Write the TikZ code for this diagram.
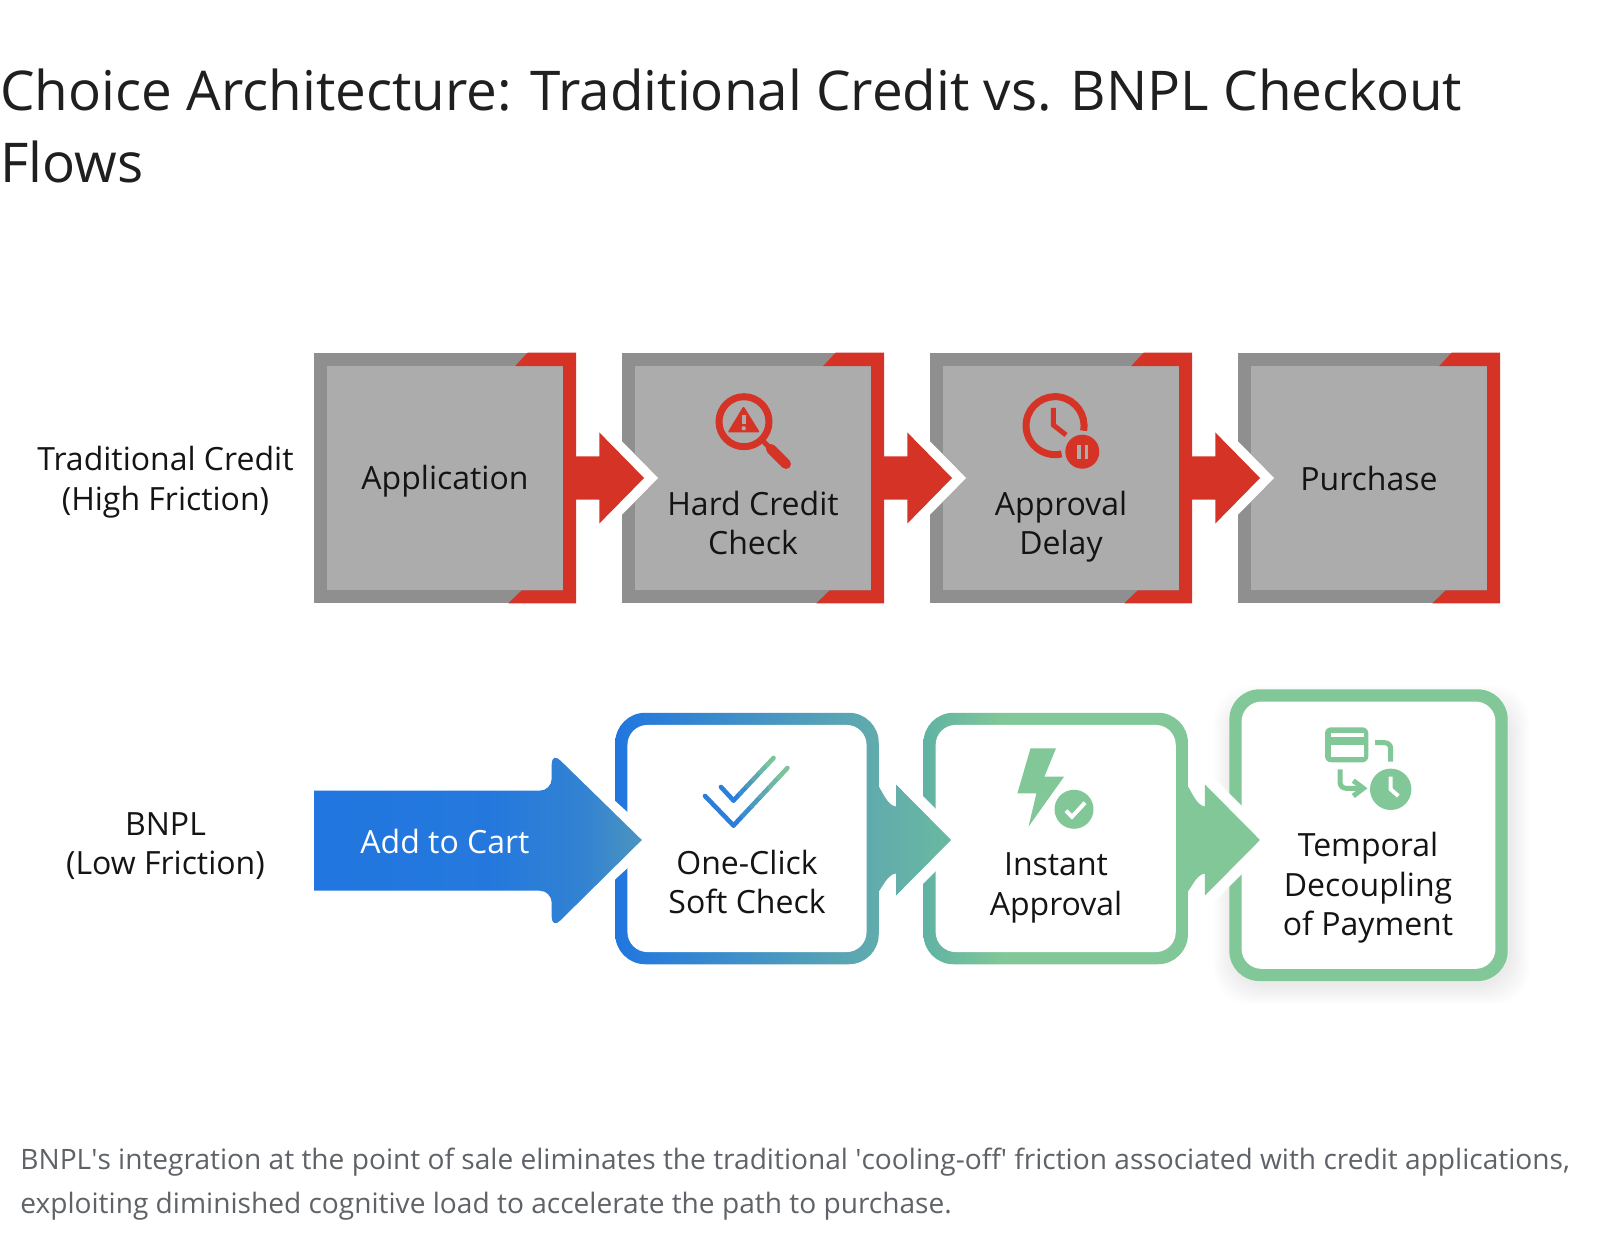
\documentclass[tikz,border=0pt]{standalone}
\usepackage{fontspec}
\setmainfont{Open Sans}
\usetikzlibrary{calc}
\definecolor{redc}{HTML}{D63327}
\definecolor{greyo}{HTML}{8F8F8F}
\definecolor{greyi}{HTML}{ACACAC}
\definecolor{ink}{HTML}{141414}
\definecolor{titlec}{HTML}{1F1F1F}
\definecolor{capc}{HTML}{5F6368}
\definecolor{blueA}{HTML}{2176E0}
\definecolor{blueB}{HTML}{4C95BE}
\definecolor{tealA}{HTML}{62ACAC}
\definecolor{tealB}{HTML}{5FB2A4}
\definecolor{greenA}{HTML}{81C797}
\pgfdeclarehorizontalshading{cartshade}{100bp}{color(0bp)=(blueA);color(25bp)=(blueA);color(52bp)=(blueA!92!blueB);color(66bp)=(blueA!60!blueB);color(75bp)=(blueB);color(100bp)=(blueB)}
\pgfdeclarehorizontalshading{instshade}{100bp}{color(0bp)=(tealB);color(25bp)=(tealB);color(40bp)=(greenA);color(100bp)=(greenA)}
\pgfdeclarehorizontalshading{softshade}{100bp}{color(0bp)=(blueA);color(25bp)=(blueA);color(38bp)=(blueA!75!tealA);color(75bp)=(tealA);color(100bp)=(tealA)}
\tikzset{
  gbox/.style={minimum width=130.75pt,minimum height=125pt,inner sep=0pt,fill=greyo},
  rbox/.style={inner sep=0pt,rounded corners=15pt},
  lab/.style={inner sep=0pt,align=center,text=ink,font=\fontsize{16}{19.8}\selectfont},
  redicon/.style={draw=redc,line width=3.5pt},
  gicon/.style={draw=greenA,line width=2.5pt},
}
\newcommand{\redframe}[1]{%
  \fill[greyi] ($(#1.north west)+(13,13.5)$) rectangle ($(#1.south east)+(-13,-13)$);
  \fill[redc] ($(#1.north east)+(-61,13.5)$) -- ($(#1.north east)+(-48.5,0)$) -- (#1.north east) -- (#1.south east)
     -- ($(#1.south east)+(-68,0)$) -- ($(#1.south east)+(-54.5,-13)$) -- ($(#1.south east)+(-13,-13)$)
     -- ($(#1.north east)+(-13,13.5)$) -- cycle;}
\newcommand{\redarrow}[2]{%
  \draw[white,line width=10pt,miter limit=10] ($(#2.west)+(-22.5,-45.5)$) -- ($(#2.west)+(22.2,0)$) -- ($(#2.west)+(-22.5,45.5)$);
  \fill[redc] ($(#1.east)+(-13,-21.7)$) -- ($(#2.west)+(-22.5,-21.7)$) -- ($(#2.west)+(-22.5,-45.5)$)
    -- ($(#2.west)+(22.2,0)$) -- ($(#2.west)+(-22.5,45.5)$) -- ($(#2.west)+(-22.5,21.7)$) -- ($(#1.east)+(-13,21.7)$) -- cycle;}
\newcommand{\innerwhite}[1]{%
  \fill[white,rounded corners=10pt] ($(#1.north west)+(12.6,12.6)$) rectangle ($(#1.south east)+(-12.6,-12.6)$);}
% from, to, tip offset, left colour, right colour
\newcommand{\softarrow}[5]{%
  \coordinate (t) at (#1.east -| #2.west);
  \coordinate (f) at (#1.east);
  \draw[white,line width=11pt,miter limit=10] ($(t)+(#3-55,-54)$) -- ($(t)+(#3,1.5)$) -- ($(t)+(#3-55,57)$);
  \path[left color=#4,right color=#5] ($(f)+(-4,-58)$) .. controls ($(f)+(4,-46)$) and ($(f)+(8,-33)$) .. ($(t)+(#3-55,-32)$)
    -- ($(t)+(#3-55,-54)$) -- ($(t)+(#3,1.5)$) -- ($(t)+(#3-55,57)$) -- ($(t)+(#3-55,35)$)
    .. controls ($(f)+(8,36)$) and ($(f)+(4,48)$) .. ($(f)+(-4,58)$) -- cycle;}
\begin{document}
\begin{tikzpicture}[x=.5pt,y=-.5pt]
\useasboundingbox (0,0) rectangle (1600,1234);
\fill[white] (0,0) rectangle (1600,1234);

\node[anchor=west,inner sep=0pt,align=left,text=titlec,font=\fontsize{27.4}{36.2}\selectfont] (title) at (0,126)
  {Choice Architecture: Traditional Credit vs. BNPL Checkout\\Flows};

\node[lab] (ltrad) at (165.5,482) {Traditional Credit\\(High Friction)};
\node[lab] (lbnpl) at (165.5,846) {BNPL\\(Low Friction)};

% traditional boxes
\node[gbox] (b1) at (445,478) {};
\node[gbox] (b2) at (753,478) {};
\node[gbox] (b3) at (1061,478) {};
\node[gbox] (b4) at (1369,478) {};
\redframe{b1}\redframe{b2}\redframe{b3}\redframe{b4}
\redarrow{b1}{b2}
\redarrow{b2}{b3}
\redarrow{b3}{b4}

% BNPL boxes
\node[rbox,minimum width=131.75pt,minimum height=125.75pt,shading=softshade] (c1) at (747,838.5) {};
\node[rbox,minimum width=132.25pt,minimum height=125.75pt,shading=instshade] (c2) at (1055.7,838.5) {};
\foreach \i in {1,...,20}{
  \fill[black,opacity=.005,rounded corners=18pt] (1229.4+4-\i,689.3+16-\i) rectangle (1507.7+2+\i,981+4+\i);
}
\node[rbox,minimum width=139.15pt,minimum height=145.85pt,fill=greenA] (c3) at (1368.5,835.2) {};
\innerwhite{c1}\innerwhite{c2}\innerwhite{c3}

% Add to Cart block arrow
\draw[white,line width=11pt,miter limit=10] (551.7,758.3) -- (641.8,840) -- (551.7,922.7);
\node[inner sep=0pt,minimum width=0pt] (cartstart) at (314,840.7) {};
\path[shading=cartshade]
  (cartstart.center) -- ++(0,-50) [rounded corners=6pt] -- (551.7,790.7) -- (551.7,752) [sharp corners] -- (641.8,840)
  [rounded corners=6pt] -- (551.7,929) -- (551.7,890.7) [sharp corners] -- (314,890.7) -- cycle;
\softarrow{c1}{c2}{28}{tealA}{tealB!70!greenA}
\softarrow{c2}{c3}{31}{greenA}{greenA}

% magnifier icon
\draw[redicon] (744,421.7) circle[radius=25];
\draw[redc,line width=2.5pt] (763,441) -- (771,449);
\draw[redc,line width=5pt,line cap=round] (771,449) -- (786,464);
\fill[redc,rounded corners=1pt] (743.5,406) -- (760,432.5) -- (727.5,432.5) -- cycle;
\draw[greyi,line width=2pt] (743.7,415.5) -- (743.7,424);
\fill[greyi] (743.7,428.3) circle[radius=2.2];

% clock pause icon
\draw[redicon] (1083.6,430.7) arc[start angle=10,end angle=-283,radius=29];
\draw[redc,line width=2.5pt] (1053.3,408) -- (1053.3,425) -- (1066,435);
\fill[redc] (1082.3,451.7) circle[radius=17];
\fill[greyi] (1077.3,445) rectangle (1080.7,459.3);
\fill[greyi] (1085,445) rectangle (1088.3,459.3);

% double check icon
\foreach \p/\q/\m in {0/.17/90,.17/.34/72,.34/.5/55,.5/.67/38,.67/.84/20,.84/1/5}{
  \draw[blueA!\m!greenA,line width=2.3pt,line cap=round] ($(733.5,825.5)!\p!(787.4,768)$) -- ($(733.5,825.5)!\q!(787.4,768)$);
  \draw[blueA!\m!greenA,line width=2.3pt,line cap=round] ($(733.5,800.5)!\p!(773.5,758)$) -- ($(733.5,800.5)!\q!(773.5,758)$);
}
\draw[blueA!90!greenA,line width=2.3pt,line cap=round] (705,796) -- (733.5,825.5);
\draw[blueA!90!greenA,line width=2.3pt,line cap=round] (721,787) -- (733.5,800.5);

% bolt icon
\fill[greenA] (1030.5,748.3) -- (1056,748.3) -- (1044.3,776.7) -- (1064,776.7) -- (1028.5,826.7) -- (1036.4,793.3) -- (1017.4,793.3) -- cycle;
\fill[greenA] (1074,809.3) circle[radius=19.5];
\draw[white,line width=2pt] (1066,810.7) -- (1072,816.7) -- (1085,802.7);

% payment icon
\fill[greenA,rounded corners=3pt] (1325,727.3) rectangle (1368.3,762.3);
\fill[white] (1330.7,733.3) rectangle (1364,737.3);
\fill[white] (1330.7,745) rectangle (1364,757.3);
\draw[gicon,rounded corners=3pt] (1375,742.7) -- (1390.7,742.7) -- (1390.7,761.7);
\draw[gicon,rounded corners=3pt] (1340,769.3) -- (1340,788.3) -- (1362,788.3);
\draw[gicon] (1353.3,780.7) -- (1363.3,788.3) -- (1353.3,796);
\fill[greenA] (1390.7,789.3) circle[radius=20.7];
\draw[white,line width=2pt] (1390.7,776.7) -- (1390.7,789.3) -- (1398.3,796);

% labels
\node[lab] (t1) at (445,481.6) {Application};
\node[lab] (t2) at (753,523) {Hard Credit\\Check};
\node[lab] (t3) at (1061,526.5) {Approval\\Delay};
\node[lab] (t4) at (1369,478.6) {Purchase};
\node[lab,text=white] (t5) at (445,841) {Add to Cart};
\node[lab] (t6) at (747,882) {One-Click\\Soft Check};
\node[lab] (t7) at (1056,888) {Instant\\Approval};
\node[lab] (t8) at (1368,888) {Temporal\\Decoupling\\of Payment};

\node[anchor=west,inner sep=0pt,align=left,text=capc,font=\fontsize{14.05}{22}\selectfont] (cap) at (20,1184)
  {BNPL\textquotesingle s integration at the point of sale eliminates the traditional \textquotesingle cooling-off\textquotesingle\ friction associated with credit applications,\\exploiting diminished cognitive load to accelerate the path to purchase.};
\end{tikzpicture}
\end{document}
